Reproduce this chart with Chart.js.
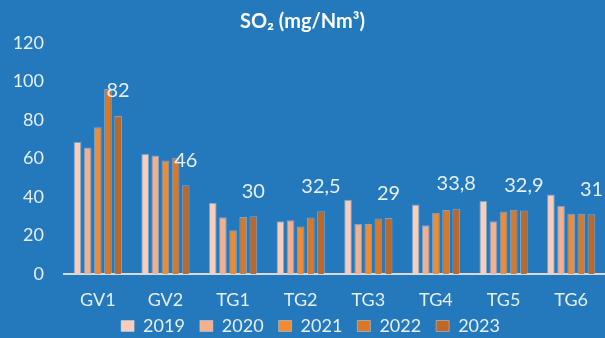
<!DOCTYPE html>
<html>
<head>
<meta charset="utf-8">
<script src="https://cdn.jsdelivr.net/npm/chart.js@4/dist/chart.umd.min.js"></script>
<style>
  html, body { margin: 0; padding: 0; background: #2479BD; }
  #wrap { width: 605px; height: 338px; }
</style>
</head>
<body>
<div id="wrap"><canvas id="c" width="605" height="338"></canvas></div>
<script>
// SO2 emissions per unit, mg/Nm3
const units = ['GV1', 'GV2', 'TG1', 'TG2', 'TG3', 'TG4', 'TG5', 'TG6'];
const years = ['2019', '2020', '2021', '2022', '2023'];
const so2_2019 = [68.5, 62.2, 37.0, 27.4, 38.5, 36.0, 37.9, 41.3];
const so2_2020 = [65.6, 61.5, 29.4, 27.9, 26.0, 25.3, 27.4, 35.3];
const so2_2021 = [76.1, 58.9, 22.7, 24.6, 26.0, 31.8, 32.4, 31.2];
const so2_2022 = [96.0, 60.3, 29.6, 29.3, 28.8, 33.2, 33.3, 31.2];
const so2_2023 = [82, 46, 30, 32.5, 29, 33.8, 32.9, 31];
const yTicks = [0, 20, 40, 60, 80, 100, 120];

const seriesValues = [so2_2019, so2_2020, so2_2021, so2_2022, so2_2023];
const seriesColors = ['#F8CDBC', '#F4AF8E', '#F08A33', '#DA7829', '#BD6828'];

const FONT = 'Lato, "Open Sans", sans-serif';
const TEXT = '#E6EEF6';

// value labels over the latest-year bars
const lastYearLabels = {
  id: 'lastYearLabels',
  afterDatasetsDraw(chart) {
    const idx = chart.data.datasets.length - 1;
    const meta = chart.getDatasetMeta(idx);
    const ctx = chart.ctx;
    ctx.save();
    ctx.font = '20px ' + FONT;
    ctx.fillStyle = TEXT;
    ctx.textAlign = 'center';
    ctx.textBaseline = 'middle';
    meta.data.forEach((bar, i) => {
      const v = chart.data.datasets[idx].data[i];
      ctx.fillText(String(v).replace('.', ','), bar.x, bar.y - 25);
    });
    ctx.restore();
  }
};

// move the legend row slightly right and up from its default slot
const legendNudge = {
  id: 'legendNudge',
  afterLayout(chart) {
    const lg = chart.legend;
    if (lg) {
      lg.left += 8;
      lg.right += 8;
      lg.top -= 9;
    }
  }
};

new Chart(document.getElementById('c'), {
  type: 'bar',
  data: {
    labels: units,
    datasets: years.map((y, k) => ({
      label: y,
      data: seriesValues[k],
      backgroundColor: seriesColors[k],
      borderColor: 'rgba(220,220,220,0.45)',
      borderWidth: 1,
      categoryPercentage: 0.75,
      barPercentage: 0.76
    }))
  },
  options: {
    responsive: false,
    animation: false,
    layout: { autoPadding: false, padding: { top: 1.5, left: 0, right: 0, bottom: 0 } },
    plugins: {
      title: {
        display: true,
        text: 'SO₂ (mg/Nm³)',
        color: '#FFFFFF',
        font: { family: FONT, size: 20, weight: 'bold' },
        padding: { top: 8, bottom: 9.2 }
      },
      legend: {
        position: 'bottom',
        maxHeight: 27,
        labels: {
          color: TEXT,
          font: { family: FONT, size: 18 },
          boxWidth: 13,
          boxHeight: 11,
          padding: 15
        }
      },
      tooltip: { enabled: false }
    },
    scales: {
      x: {
        grid: { display: false, drawTicks: false },
        border: { display: true, color: '#D9D9D9', width: 2 },
        ticks: { color: TEXT, font: { family: FONT, size: 18 }, padding: 15 },
        afterFit(scale) { scale.height = 37; }
      },
      y: {
        min: 0,
        max: 120,
        afterBuildTicks(scale) { scale.ticks = yTicks.map(v => ({ value: v })); },
        grid: { display: false, drawTicks: false },
        border: { display: false },
        ticks: { color: TEXT, font: { family: FONT, size: 18 }, padding: 20 },
        afterFit(scale) { scale.width = 64; }
      }
    }
  },
  plugins: [lastYearLabels, legendNudge]
});
</script>
</body>
</html>
